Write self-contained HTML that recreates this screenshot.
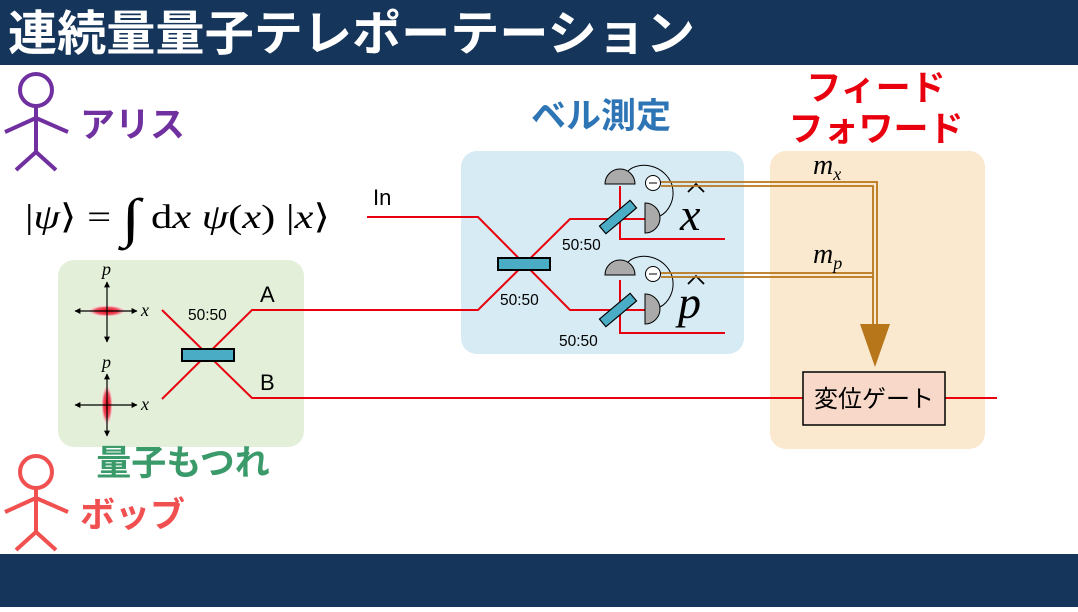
<!DOCTYPE html>
<html><head><meta charset="utf-8"><style>
body{margin:0;width:1078px;height:607px;overflow:hidden;background:#fff;font-family:"Liberation Sans","Noto Sans CJK JP",sans-serif}
</style></head><body>
<svg width="1078" height="607" viewBox="0 0 1078 607" xmlns="http://www.w3.org/2000/svg">
<defs>
<radialGradient id="g1"><stop offset="0" stop-color="#e8000f"/><stop offset="0.6" stop-color="#f05060"/><stop offset="1" stop-color="#fff" stop-opacity="0.2"/></radialGradient>
<marker id="ah" viewBox="0 0 10 10" refX="9" refY="5" markerWidth="5" markerHeight="5" orient="auto"><path d="M0,0L10,5L0,10z" fill="#000"/></marker>
</defs>
<rect x="0" y="0" width="1078" height="65" fill="#15365a"/>
<rect x="0" y="554" width="1078" height="53" fill="#15365a"/>
<text x="8" y="50" font-size="48" font-weight="bold" fill="#fff" textLength="687" lengthAdjust="spacingAndGlyphs">連続量量子テレポーテーション</text>

<!-- Alice -->
<g stroke="#7030a0" stroke-width="4" fill="none">
<circle cx="36" cy="90" r="16"/><path d="M36,106V152M5,132L36,118L68,132M16,170L36,152L56,170"/></g>
<text x="80" y="137" font-size="35" font-weight="bold" fill="#7030a0">アリス</text>
<!-- Bob -->
<g stroke="#f05050" stroke-width="4" fill="none">
<circle cx="36" cy="472" r="16"/><path d="M36,488V532M5,512L36,498L68,512M16,550L36,532L56,550"/></g>
<text x="80" y="527" font-size="35" font-weight="bold" fill="#f05050">ボッブ</text>

<text x="25" y="228" font-size="34" font-family="Liberation Serif,serif" textLength="305" lengthAdjust="spacingAndGlyphs">|<tspan font-style="italic">ψ</tspan>⟩ = <tspan font-size="54" dy="8">∫</tspan><tspan dy="-8"> d<tspan font-style="italic">x ψ</tspan>(<tspan font-style="italic">x</tspan>) |<tspan font-style="italic">x</tspan>⟩</tspan></text>

<rect x="58" y="260" width="246" height="187" rx="16" fill="#e3efd9"/>
<rect x="461" y="151" width="283" height="203" rx="16" fill="#d6ebf3"/>
<rect x="770" y="151" width="215" height="298" rx="16" fill="#fae8cf"/>

<text x="601" y="128" font-size="35" font-weight="bold" fill="#2e75b6" text-anchor="middle">ベル測定</text>
<text x="876" y="100" font-size="35" font-weight="bold" fill="#e8000f" text-anchor="middle">フィード</text>
<text x="876" y="141" font-size="35" font-weight="bold" fill="#e8000f" text-anchor="middle">フォワード</text>
<text x="183" y="475" font-size="35" font-weight="bold" fill="#3a9a6a" text-anchor="middle">量子もつれ</text>

<!-- phase space -->
<ellipse cx="107" cy="311" rx="20" ry="6" fill="url(#g1)"/>
<ellipse cx="107" cy="405" rx="6" ry="21" fill="url(#g1)"/>
<g stroke="#000" stroke-width="1.2" marker-end="url(#ah)">
<path d="M107,311H137"/><path d="M107,311H75"/><path d="M107,311V282"/><path d="M107,311V342"/>
<path d="M107,405H137"/><path d="M107,405H75"/><path d="M107,405V374"/><path d="M107,405V436"/></g>
<g font-family="Liberation Serif,serif" font-style="italic" font-size="18">
<text x="102" y="275">p</text><text x="141" y="316">x</text><text x="102" y="368">p</text><text x="141" y="410">x</text></g>

<!-- red lines -->
<g stroke="#e8000f" stroke-width="2" fill="none">
<path d="M162,310L252,398H803M162,399L252,310H478L570,219H620V239H725"/>
<path d="M367,217H478L570,310H620V333H725"/>
<path d="M620,219H645M620,310H645"/>
<path d="M620,186V219M620,280V310"/>
<path d="M945,398H997"/>
</g>
<rect x="182" y="349" width="52" height="12" fill="#4bacc6" stroke="#000" stroke-width="2"/>
<rect x="498" y="258" width="52" height="12" fill="#4bacc6" stroke="#000" stroke-width="2"/>
<rect x="598" y="212" width="40" height="10" fill="#4bacc6" stroke="#000" stroke-width="1.2" transform="rotate(-40 618 217)"/>
<rect x="598" y="305" width="40" height="10" fill="#4bacc6" stroke="#000" stroke-width="1.2" transform="rotate(-40 618 310)"/>

<g font-size="15.5"><text x="562" y="250">50:50</text><text x="500" y="305">50:50</text><text x="559" y="346">50:50</text><text x="188" y="320">50:50</text></g>
<g font-size="22"><text x="260" y="302">A</text><text x="260" y="390">B</text><text x="373" y="205">In</text></g>

<!-- detectors -->
<g stroke="#000" stroke-width="1">
<path d="M605,184A15,15 0 0 1 635,184Z" fill="#aaa"/>
<path d="M645,203A15,15 0 0 1 645,233Z" fill="#aaa"/>
<path d="M628,171C640,160 665,165 672,185C676,200 668,212 660,216" fill="none"/>
<circle cx="653" cy="183" r="7.5" fill="#fff"/><path d="M649,183H657"/>
<path d="M605,275A15,15 0 0 1 635,275Z" fill="#aaa"/>
<path d="M645,294A15,15 0 0 1 645,324Z" fill="#aaa"/>
<path d="M628,262C640,251 665,256 672,276C676,291 668,303 660,307" fill="none"/>
<circle cx="653" cy="274" r="7.5" fill="#fff"/><path d="M649,274H657"/>
</g>
<g font-family="Liberation Serif,serif" font-style="italic" font-size="46">
<text x="680" y="230">x</text>
<text x="678" y="318">p</text></g>
<g stroke="#000" stroke-width="1.8" fill="none"><path d="M688,192L696,184L704,192"/><path d="M688,284L696,276L704,284"/></g>

<!-- classical channels -->
<g stroke="#b8761a" stroke-width="1.8" fill="none">
<path d="M661,182H877V325M661,186H873V325"/>
<path d="M661,273H873M661,277H873"/>
</g>
<path d="M860,324H890L875,367Z" fill="#b8761a"/>
<g font-family="Liberation Serif,serif" font-style="italic" font-size="28">
<text x="813" y="174">m<tspan font-size="18" dy="6">x</tspan></text>
<text x="813" y="263">m<tspan font-size="18" dy="6">p</tspan></text></g>

<rect x="803" y="372" width="142" height="53" fill="#f8d8c8" stroke="#000" stroke-width="1.5"/>
<text x="874" y="407" font-size="24" text-anchor="middle">変位ゲート</text>
</svg>
</body></html>
